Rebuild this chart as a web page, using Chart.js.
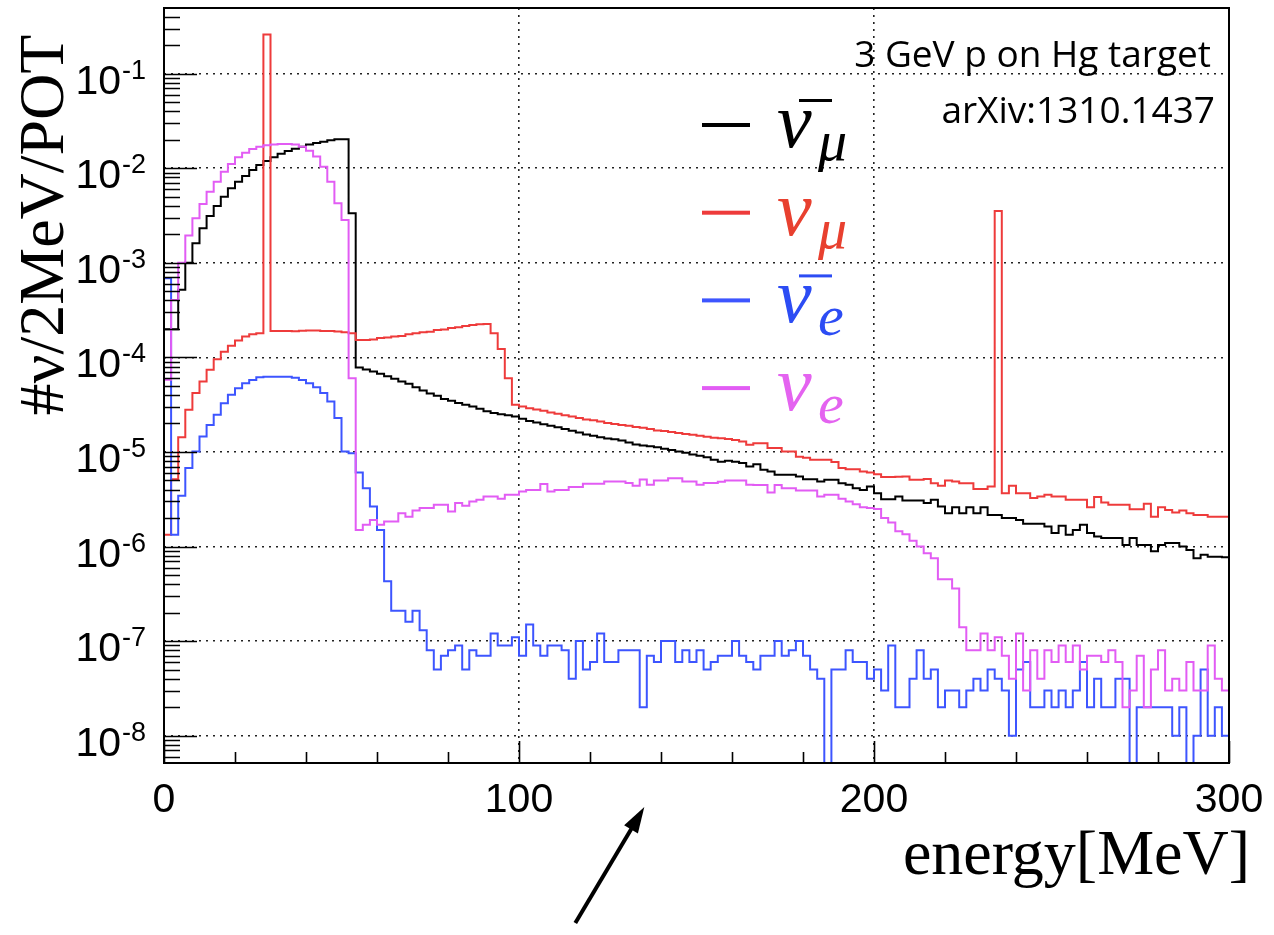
<!DOCTYPE html>
<html>
<head>
<meta charset="utf-8">
<title>Neutrino flux, 3 GeV p on Hg</title>
<script src="https://cdn.jsdelivr.net/npm/chart.js@4.4.1/dist/chart.umd.min.js"></script>
<style>
    html, body { margin: 0; padding: 0; background: #fff; }
    canvas { display: block; }
</style>
</head>
<body>
<canvas id="grafico" width="1274" height="935"></canvas>
<script>
// bins of 2 MeV from 0 to 300 MeV, values in #nu/2MeV/POT (0 = empty bin)
const binWidth = 2;

const antiNuMu = [
    1.99e-4, 1.99e-4, 5.2e-4, 1.0e-3, 1.61e-3, 2.32e-3, 3.13e-3, 3.99e-3, 5.0e-3, 6.15e-3,
    7.2e-3, 8.3e-3, 9.6e-3, 1.08e-2, 1.19e-2, 1.31e-2, 1.42e-2, 1.52e-2, 1.61e-2, 1.69e-2,
    1.78e-2, 1.85e-2, 1.91e-2, 1.98e-2, 2.03e-2, 2.03e-2, 3.34e-3, 7.8e-5, 7.46e-5, 7.08e-5,
    6.7e-5, 6.3e-5, 5.93e-5, 5.57e-5, 5.25e-5, 4.82e-5, 4.46e-5, 4.16e-5, 3.92e-5, 3.64e-5,
    3.47e-5, 3.3e-5, 3.15e-5, 3.02e-5, 2.86e-5, 2.69e-5, 2.59e-5, 2.5e-5, 2.44e-5, 2.37e-5,
    2.24e-5, 2.13e-5, 2.05e-5, 1.96e-5, 1.89e-5, 1.82e-5, 1.75e-5, 1.68e-5, 1.61e-5, 1.53e-5,
    1.48e-5, 1.43e-5, 1.39e-5, 1.36e-5, 1.32e-5, 1.26e-5, 1.2e-5, 1.17e-5, 1.15e-5, 1.12e-5,
    1.08e-5, 1.05e-5, 1.01e-5, 9.8e-6, 9.4e-6, 9.1e-6, 8.8e-6, 8.25e-6, 7.9e-6, 8.05e-6,
    7.9e-6, 7.62e-6, 7.0e-6, 7.4e-6, 6.47e-6, 6.21e-6, 5.73e-6, 5.73e-6, 5.73e-6, 5.5e-6,
    5.16e-6, 5.16e-6, 4.87e-6, 5.07e-6, 5.07e-6, 4.68e-6, 4.49e-6, 4.14e-6, 3.97e-6, 4.31e-6,
    3.66e-6, 3.17e-6, 3.17e-6, 3.38e-6, 3.06e-6, 3.06e-6, 3.06e-6, 2.88e-6, 3.12e-6, 2.65e-6,
    2.25e-6, 2.61e-6, 2.25e-6, 2.61e-6, 2.25e-6, 2.61e-6, 2.16e-6, 2.16e-6, 2.0e-6, 2.0e-6,
    1.91e-6, 1.74e-6, 1.74e-6, 1.74e-6, 1.63e-6, 1.39e-6, 1.66e-6, 1.33e-6, 1.5e-6, 1.7e-6,
    1.39e-6, 1.28e-6, 1.23e-6, 1.23e-6, 1.23e-6, 1.04e-6, 1.23e-6, 1.04e-6, 1.04e-6, 8.9e-7,
    1.04e-6, 1.09e-6, 1.09e-6, 1.0e-6, 9.2e-7, 7.5e-7, 8.2e-7, 7.8e-7, 7.8e-7, 7.7e-7
];

const nuMu = [
    1.33e-6, 5.16e-6, 1.43e-5, 2.79e-5, 4.19e-5, 5.55e-5, 7.38e-5, 9.57e-5, 1.15e-4, 1.33e-4,
    1.51e-4, 1.66e-4, 1.76e-4, 1.8e-4, 0.26, 1.9e-4, 1.9e-4, 1.9e-4, 1.89e-4, 1.91e-4,
    1.93e-4, 1.92e-4, 1.9e-4, 1.9e-4, 1.88e-4, 1.85e-4, 1.8e-4, 1.53e-4, 1.53e-4, 1.55e-4,
    1.6e-4, 1.62e-4, 1.66e-4, 1.68e-4, 1.76e-4, 1.8e-4, 1.84e-4, 1.87e-4, 1.95e-4, 1.97e-4,
    2.05e-4, 2.08e-4, 2.15e-4, 2.2e-4, 2.24e-4, 2.25e-4, 1.8e-4, 1.23e-4, 6.0e-5, 3.15e-5,
    3.03e-5, 2.9e-5, 2.82e-5, 2.72e-5, 2.62e-5, 2.53e-5, 2.44e-5, 2.37e-5, 2.29e-5, 2.21e-5,
    2.16e-5, 2.1e-5, 2.03e-5, 1.98e-5, 1.93e-5, 1.89e-5, 1.84e-5, 1.8e-5, 1.75e-5, 1.69e-5,
    1.67e-5, 1.63e-5, 1.59e-5, 1.55e-5, 1.52e-5, 1.48e-5, 1.45e-5, 1.41e-5, 1.4e-5, 1.37e-5,
    1.34e-5, 1.29e-5, 1.19e-5, 1.24e-5, 1.24e-5, 1.1e-5, 1.1e-5, 1.01e-5, 1.01e-5, 8.9e-6,
    8.7e-6, 8.25e-6, 8.25e-6, 8.25e-6, 7.85e-6, 6.75e-6, 6.58e-6, 6.58e-6, 6.2e-6, 6.05e-6,
    5.82e-6, 5.42e-6, 5.42e-6, 5.46e-6, 5.5e-6, 5.07e-6, 5.07e-6, 5.19e-6, 4.68e-6, 4.38e-6,
    4.98e-6, 4.87e-6, 4.68e-6, 4.68e-6, 4.05e-6, 4.05e-6, 4.31e-6, 3.54e-3, 3.66e-6, 4.38e-6,
    3.66e-6, 3.66e-6, 3.25e-6, 3.38e-6, 3.52e-6, 3.38e-6, 3.38e-6, 3.12e-6, 3.12e-6, 3.12e-6,
    2.61e-6, 3.33e-6, 2.92e-6, 2.76e-6, 2.76e-6, 2.76e-6, 2.48e-6, 2.48e-6, 2.83e-6, 2.07e-6,
    2.61e-6, 2.44e-6, 2.29e-6, 2.4e-6, 2.25e-6, 2.16e-6, 2.16e-6, 2.07e-6, 2.07e-6, 2.07e-6
];

const antiNuE = [
    6.87e-4, 1.33e-6, 3.44e-6, 6.75e-6, 1.01e-5, 1.46e-5, 1.93e-5, 2.47e-5, 3.28e-5, 4.02e-5,
    4.72e-5, 5.33e-5, 5.78e-5, 6.15e-5, 6.25e-5, 6.25e-5, 6.25e-5, 6.25e-5, 6.1e-5, 5.78e-5,
    5.33e-5, 4.84e-5, 4.19e-5, 3.41e-5, 2.28e-5, 1.01e-5, 9.7e-6, 6.05e-6, 4.14e-6, 2.65e-6,
    1.5e-6, 4.3e-7, 2.1e-7, 2.1e-7, 1.6e-7, 2.1e-7, 1.3e-7, 8e-8, 5e-8, 7e-8,
    8e-8, 9e-8, 5e-8, 8e-8, 7e-8, 7e-8, 1.2e-7, 9e-8, 9e-8, 1.1e-7,
    7e-8, 1.5e-7, 9e-8, 7e-8, 9e-8, 9e-8, 8e-8, 4e-8, 1e-7, 5e-8,
    6e-8, 1.2e-7, 6e-8, 6e-8, 8e-8, 8e-8, 8e-8, 2e-8, 7e-8, 6e-8,
    1e-7, 1e-7, 6e-8, 8e-8, 6e-8, 8e-8, 5e-8, 6e-8, 7e-8, 7e-8,
    1e-7, 7e-8, 6e-8, 5e-8, 7e-8, 7e-8, 1e-7, 7e-8, 8e-8, 1e-7,
    7e-8, 5e-8, 4e-8, 0, 5e-8, 5e-8, 8e-8, 6e-8, 6e-8, 4e-8,
    5e-8, 3e-8, 9e-8, 2e-8, 2e-8, 4e-8, 8e-8, 4e-8, 5e-8, 2e-8,
    3e-8, 3e-8, 2e-8, 3e-8, 4e-8, 3e-8, 5e-8, 4e-8, 3e-8, 1e-8,
    5e-8, 6e-8, 2e-8, 2e-8, 3e-8, 2e-8, 3e-8, 2e-8, 3e-8, 6e-8,
    2e-8, 4e-8, 2e-8, 2e-8, 4e-8, 4e-8, 0, 2e-8, 2e-8, 2e-8,
    2e-8, 2e-8, 1e-8, 2e-8, 0, 1e-8, 5e-8, 1e-8, 2e-8, 1e-8
];

const nuE = [
    5.8e-5, 4.05e-4, 1.0e-3, 1.94e-3, 2.96e-3, 4.2e-3, 5.66e-3, 7.2e-3, 9.2e-3, 1.11e-2,
    1.31e-2, 1.46e-2, 1.6e-2, 1.69e-2, 1.75e-2, 1.78e-2, 1.81e-2, 1.81e-2, 1.78e-2, 1.69e-2,
    1.53e-2, 1.33e-2, 1.04e-2, 7.2e-3, 4.27e-3, 2.84e-3, 6.0e-5, 1.5e-6, 1.7e-6, 1.91e-6,
    1.7e-6, 1.84e-6, 1.84e-6, 2.25e-6, 2.07e-6, 2.4e-6, 2.55e-6, 2.55e-6, 2.76e-6, 2.76e-6,
    2.34e-6, 2.88e-6, 2.7e-6, 3.0e-6, 3.12e-6, 3.38e-6, 3.38e-6, 3.2e-6, 3.52e-6, 3.52e-6,
    3.81e-6, 3.97e-6, 3.97e-6, 4.57e-6, 3.81e-6, 3.97e-6, 3.97e-6, 4.25e-6, 4.25e-6, 4.6e-6,
    4.6e-6, 4.6e-6, 4.87e-6, 4.87e-6, 4.87e-6, 4.7e-6, 4.4e-6, 5.1e-6, 4.5e-6, 5.0e-6,
    5.0e-6, 5.28e-6, 5.28e-6, 4.87e-6, 4.87e-6, 4.5e-6, 4.7e-6, 4.7e-6, 4.85e-6, 5.0e-6,
    5.0e-6, 5.0e-6, 4.5e-6, 4.47e-6, 4.47e-6, 3.72e-6, 4.47e-6, 4.14e-6, 4.14e-6, 3.91e-6,
    3.91e-6, 3.91e-6, 3.38e-6, 3.52e-6, 3.52e-6, 3.2e-6, 3.0e-6, 2.8e-6, 2.6e-6, 2.55e-6,
    2.5e-6, 2.0e-6, 1.8e-6, 1.45e-6, 1.35e-6, 1.15e-6, 1.0e-6, 8.5e-7, 7.5e-7, 4.5e-7,
    4.5e-7, 3.6e-7, 1.4e-7, 8e-8, 8e-8, 1.2e-7, 8e-8, 1.1e-7, 7e-8, 4e-8,
    1.2e-7, 3e-8, 8e-8, 4e-8, 8e-8, 6e-8, 9e-8, 6e-8, 9e-8, 5e-8,
    7e-8, 7e-8, 6e-8, 8e-8, 6e-8, 2e-8, 3e-8, 7e-8, 2e-8, 5e-8,
    8e-8, 3e-8, 4e-8, 3e-8, 6e-8, 3e-8, 3e-8, 9e-8, 4e-8, 3e-8
];

// axes
const xMin = 0, xMax = 300;
const yMin = 5.14e-9, yMax = 0.495;
const xLabels = [0, 100, 200, 300];
const yExponents = [-8, -7, -6, -5, -4, -3, -2, -1];
const logSteps = [1, 2, 3, 4, 5, 6, 7, 8, 9];

const series = [
    { name: "\u03bd", sub: "\u03bc", bar: true, values: antiNuMu, color: "#000000", text: "#000000" },
    { name: "\u03bd", sub: "\u03bc", bar: false, values: nuMu, color: "#ee3b3b", text: "#e8402f" },
    { name: "\u03bd", sub: "e", bar: true, values: antiNuE, color: "#3d55ff", text: "#2c4cf4" },
    { name: "\u03bd", sub: "e", bar: false, values: nuE, color: "#e25cf4", text: "#e463f0" }
];

// one point per bin low edge plus the upper edge of the last bin
function toSteps(values) {
    let pts = values.map((v, i) => ({ x: i * binWidth, y: v > 0 ? v : yMin / 10 }));
    pts.push({ x: values.length * binWidth, y: pts[pts.length - 1].y });
    return pts;
}

function isDecade(v) {
    let l = Math.log10(v);
    return Math.abs(l - Math.round(l)) < 1e-6;
}

const rootLook = {
    id: "rootLook",
    afterDatasetsDraw(chart) {
        const { ctx, chartArea: a, scales: { x, y } } = chart;
        ctx.save();

        // tick marks, inside the frame
        ctx.strokeStyle = "#000";
        ctx.lineWidth = 1.6;
        ctx.beginPath();
        y.ticks.forEach(t => {
            let py = Math.round(y.getPixelForValue(t.value)) + 0.5;
            let len = isDecade(t.value) ? 33 : 16;
            ctx.moveTo(a.left, py);
            ctx.lineTo(a.left + len, py);
        });
        x.ticks.forEach(t => {
            let px = Math.round(x.getPixelForValue(t.value)) + 0.5;
            let len = t.value % 100 === 0 ? 22 : 11;
            ctx.moveTo(px, a.bottom);
            ctx.lineTo(px, a.bottom - len);
        });
        ctx.stroke();

        // frame
        ctx.lineWidth = 2;
        ctx.strokeRect(a.left, a.top, a.right - a.left, a.bottom - a.top);

        // y labels 10^n
        ctx.fillStyle = "#000";
        ctx.textBaseline = "alphabetic";
        yExponents.forEach(e => {
            let py = y.getPixelForValue(Math.pow(10, e));
            ctx.font = "41px 'Liberation Sans', Arial, sans-serif";
            ctx.textAlign = "right";
            ctx.fillText("10", 121, py + 20);
            ctx.font = "27px 'Liberation Sans', Arial, sans-serif";
            ctx.textAlign = "left";
            ctx.fillText("-" + (-e), 122, py + 5);
        });

        // x labels
        ctx.font = "41px 'Liberation Sans', Arial, sans-serif";
        ctx.textAlign = "center";
        xLabels.forEach(v => {
            ctx.fillText(String(v), x.getPixelForValue(v), a.bottom + 49);
        });

        // axis titles
        ctx.font = "64px 'Liberation Serif', 'Times New Roman', serif";
        ctx.textAlign = "right";
        ctx.fillText("energy[MeV]", 1250, a.bottom + 111);
        ctx.save();
        ctx.translate(63, 225);
        ctx.rotate(-Math.PI / 2);
        ctx.textAlign = "center";
        ctx.fillText("#\u03bd/2MeV/POT", 0, 0);
        ctx.restore();

        // legend
        series.forEach((s, i) => {
            let ly = 125 + i * 87.7;
            ctx.fillStyle = s.color;
            ctx.fillRect(702, ly - 2, 48, 4);
            ctx.fillStyle = s.text;
            ctx.textAlign = "left";
            ctx.font = "italic 78px 'Liberation Serif', 'Times New Roman', serif";
            ctx.fillText(s.name, 777, ly + 22);
            if (s.bar) ctx.fillRect(799, ly - 26, 33, 3);
            ctx.font = "italic 58px 'Liberation Serif', 'Times New Roman', serif";
            ctx.fillText(s.sub, 818, ly + 35);
        });

        // note
        ctx.fillStyle = "#000";
        ctx.textAlign = "right";
        ctx.font = "37px 'Open Sans', Lato, sans-serif";
        ctx.fillText("3 GeV p on Hg target", 1211, 67);
        ctx.fillText("arXiv:1310.1437", 1215, 123);

        // arrow under the axis
        let tipX = x.getPixelForValue(135.3), tipY = a.bottom + 44;
        let tailX = tipX - 69, tailY = a.bottom + 160;
        let ang = Math.atan2(tipY - tailY, tipX - tailX);
        ctx.strokeStyle = "#000";
        ctx.lineWidth = 4;
        ctx.beginPath();
        ctx.moveTo(tailX, tailY);
        ctx.lineTo(tipX - 20 * Math.cos(ang), tipY - 20 * Math.sin(ang));
        ctx.stroke();
        ctx.beginPath();
        ctx.moveTo(tipX, tipY);
        ctx.lineTo(tipX - 26 * Math.cos(ang) + 8 * Math.sin(ang), tipY - 26 * Math.sin(ang) - 8 * Math.cos(ang));
        ctx.lineTo(tipX - 26 * Math.cos(ang) - 8 * Math.sin(ang), tipY - 26 * Math.sin(ang) + 8 * Math.cos(ang));
        ctx.closePath();
        ctx.fill();

        ctx.restore();
    }
};

const ctx = document.getElementById("grafico");

let chart = new Chart(ctx, {
    type: "line",
    data: {
        datasets: series.map((s, i) => ({
            label: s.name + s.sub,
            data: toSteps(s.values),
            stepped: "before",
            borderColor: s.color,
            borderWidth: 2,
            borderJoinStyle: "miter",
            pointRadius: 0,
            fill: false,
            order: 4 - i
        }))
    },
    options: {
        responsive: false,
        animation: false,
        devicePixelRatio: 1,
        layout: { padding: { left: 164, top: 8, right: 45, bottom: 172 } },
        plugins: {
            legend: { display: false },
            tooltip: { enabled: false }
        },
        scales: {
            x: {
                type: "linear",
                min: xMin,
                max: xMax,
                ticks: { stepSize: 20, display: false },
                border: { display: false, dash: [2, 5] },
                grid: {
                    drawTicks: false,
                    lineWidth: 1.6,
                    color: c => (c.tick && (c.tick.value === 100 || c.tick.value === 200)) ? "#222" : "rgba(0,0,0,0)"
                }
            },
            y: {
                type: "logarithmic",
                min: yMin,
                max: yMax,
                ticks: { display: false },
                afterBuildTicks: axis => {
                    let list = [];
                    for (let e = -9; e <= 0; e++) {
                        logSteps.forEach(m => {
                            let v = m * Math.pow(10, e);
                            if (v >= yMin && v <= yMax) list.push({ value: v });
                        });
                    }
                    axis.ticks = list;
                },
                border: { display: false, dash: [2, 5] },
                grid: {
                    drawTicks: false,
                    lineWidth: 1.6,
                    color: c => (c.tick && isDecade(c.tick.value)) ? "#222" : "rgba(0,0,0,0)"
                }
            }
        }
    },
    plugins: [rootLook]
});
</script>
</body>
</html>
